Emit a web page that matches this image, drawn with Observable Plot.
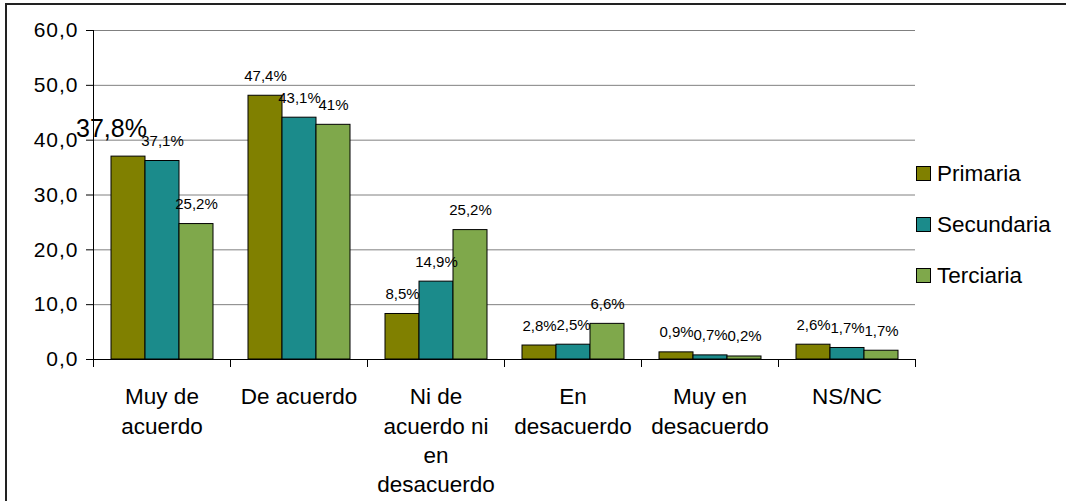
<!DOCTYPE html>
<html>
<head>
<meta charset="utf-8">
<script src="https://cdn.jsdelivr.net/npm/d3@7"></script>
<script src="https://cdn.jsdelivr.net/npm/@observablehq/plot@0.6"></script>
<style>
  html, body { margin: 0; padding: 0; background: #fff; }
  #wrap { position: relative; width: 1066px; height: 501px; overflow: hidden; font-family: "Liberation Sans", Arial, sans-serif; }
  #border { position: absolute; left: 5px; top: 3px; right: -10px; bottom: -10px; border-top: 2px solid #222; border-left: 2px solid #222; pointer-events: none; }
  #chart { position: absolute; left: 0; top: 0; }
  #legend { position: absolute; left: 916px; top: 0; }
  .item { position: absolute; left: 0; display: flex; align-items: center; white-space: nowrap; font-size: 22.5px; color: #000; }
  .sw { width: 13px; height: 13px; border: 1px solid #000; margin-right: 6px; }
  g[aria-label="y-axis tick label"] text { letter-spacing: 1px; }
</style>
</head>
<body>
<div id="wrap">
  <div id="chart"></div>
  <div id="legend"></div>
  <div id="border"></div>
</div>
<script>
// ---- data ----
const categories = ["Muy de acuerdo", "De acuerdo", "Ni de acuerdo ni en desacuerdo", "En desacuerdo", "Muy en desacuerdo", "NS/NC"];
const categoryLabels = ["Muy de\nacuerdo", "De acuerdo", "Ni de\nacuerdo ni\nen\ndesacuerdo", "En\ndesacuerdo", "Muy en\ndesacuerdo", "NS/NC"];
const series = ["Primaria", "Secundaria", "Terciaria"];
const primaria   = [37.0, 48.1, 8.3, 2.55, 1.3, 2.7];
const secundaria = [36.2, 44.1, 14.2, 2.7, 0.75, 2.1];
const terciaria  = [24.7, 42.8, 23.6, 6.5, 0.55, 1.6];
const primariaLabels   = ["37,8%", "47,4%", "8,5%", "2,8%", "0,9%", "2,6%"];
const secundariaLabels = ["37,1%", "43,1%", "14,9%", "2,5%", "0,7%", "1,7%"];
const terciariaLabels  = ["25,2%", "41%", "25,2%", "6,6%", "0,2%", "1,7%"];
const yTicks = [0, 10, 20, 30, 40, 50, 60];
const colors = ["#808000", "#1b8b8b", "#7fa84b"];

// ---- table ----
const values = [primaria, secundaria, terciaria];
const labels = [primariaLabels, secundariaLabels, terciariaLabels];
const data = [];
categories.forEach((c, i) => series.forEach((s, j) => data.push({cat: c, series: s, value: values[j][i], label: labels[j][i], big: i === 0 && j === 0})));
const catLabel = new Map(categories.map((c, i) => [c, categoryLabels[i]]));

const plotHeightPx = 501 - 30 - 142;

const chart = Plot.plot({
  width: 1066,
  height: 501,
  marginLeft: 92,
  marginRight: 150,
  marginTop: 30,
  marginBottom: 142,
  style: {fontFamily: "'Liberation Sans', Arial, sans-serif", background: "transparent", color: "#000"},
  fx: {domain: categories, paddingInner: 0, paddingOuter: 0, axis: null, label: null},
  x: {domain: series, paddingInner: 0, paddingOuter: 0.5, axis: null},
  y: {domain: [0, 60], axis: null},
  color: {domain: series, range: colors},
  marks: [
    Plot.gridY(yTicks.filter(d => d > 0), {stroke: "#808080", strokeOpacity: 1, strokeWidth: 1}),
    Plot.barY(data, {fx: "cat", x: "series", y: "value", fill: "series", stroke: "#000", strokeWidth: 1}),
    Plot.ruleY([0], {stroke: "#000", strokeWidth: 1}),
    Plot.frame({anchor: "left", fx: [categories[0]], stroke: "#000", insetBottom: -7}),
    Plot.frame({anchor: "left", stroke: "#000", insetTop: plotHeightPx, insetBottom: -7}),
    Plot.frame({anchor: "right", fx: [categories[categories.length - 1]], stroke: "#000", insetTop: plotHeightPx, insetBottom: -7}),
    Plot.axisY(yTicks, {tickSize: 7, tickPadding: 8, fontSize: 21, tickFormat: d => d.toFixed(1).replace(".", ","), label: null, stroke: "#000"}),
    Plot.axisFx({anchor: "bottom", tickSize: 0, tickPadding: 24, fontSize: 22.5, lineHeight: 1.3, tickFormat: d => catLabel.get(d), label: null}),
    Plot.text(data.filter(d => !d.big), {fx: "cat", x: "series", y: "value", text: "label", lineAnchor: "bottom", dy: -15, fontSize: 15, fill: "#000"}),
    Plot.text(data.filter(d => d.big), {fx: "cat", x: "series", y: "value", text: "label", lineAnchor: "bottom", dy: -20, dx: -17, fontSize: 25, fill: "#000"})
  ]
});
document.getElementById("chart").appendChild(chart);

// ---- legend ----
const legend = document.getElementById("legend");
const legendTops = [166, 217, 268];
series.forEach((s, i) => {
  const item = document.createElement("div");
  item.className = "item";
  item.style.top = (legendTops[i] - 4) + "px";
  item.style.height = "23px";
  const sw = document.createElement("span");
  sw.className = "sw";
  sw.style.background = colors[i];
  const t = document.createElement("span");
  t.textContent = s;
  item.appendChild(sw);
  item.appendChild(t);
  legend.appendChild(item);
});
</script>
</body>
</html>
